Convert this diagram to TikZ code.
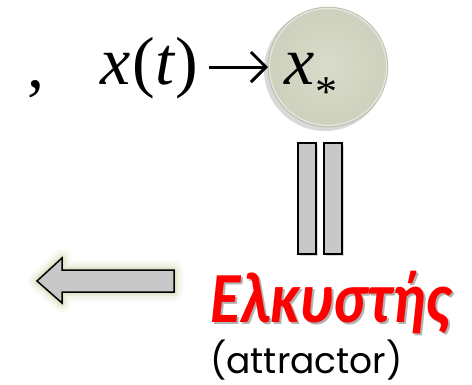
\documentclass[tikz,border=0pt]{standalone}
\usepackage{fontspec}
\usepackage{graphicx}
\usetikzlibrary{arrows.meta,shadows}
\newfontfamily\timesfont{Liberation Serif}
\newfontfamily\greekfont{Carlito}
\newfontfamily\roundfont{Poppins}
\definecolor{ballcol}{HTML}{CDD0BC}
\definecolor{balllight}{HTML}{DADCCB}
\definecolor{barcol}{HTML}{C8C8C8}
\definecolor{glowcol}{HTML}{BFC585}
\newcommand{\greekname}{\scalebox{0.86}[1]{\fontsize{72}{72}\greekfont\bfseries\itshape Ελκυστής}}
\begin{document}
\begin{tikzpicture}[x=1pt, y=-1pt,
    txt/.style={inner sep=0pt, anchor=base west},
    bar/.style={fill=barcol, draw=black, line width=1.5pt,
        drop shadow={opacity=0.3, shadow xshift=2pt, shadow yshift=-2pt}},
    conn/.style={line width=3pt, -{Straight Barb[length=15pt, width=30pt, line width=3pt]}}]
    \useasboundingbox (0,0) rectangle (472,384);

    % The limit point as a ball
    \fill[black, opacity=0.15] (325,70) circle (61);
    \shade[inner color=balllight, outer color=ballcol] (328,67) circle (60);
    \draw[white, opacity=0.5, line width=1.2pt] (328,67) circle (58.5);
    \draw[ballcol!70!black, opacity=0.35, line width=0.8pt] (328,67) circle (60);

    % Convergence line
    \node[txt] (comma) at (27,87) {\fontsize{68}{68}\timesfont ,};
    \node[txt] (xt) at (100,84) {\fontsize{68}{68}\timesfont\itshape x\hspace{2pt}\upshape(\itshape t\upshape\hspace{2pt})};
    \node[txt] (xstar) at (284,84) {\fontsize{68}{68}\timesfont\itshape x\upshape\hspace{1pt}\raisebox{-22pt}{\fontsize{44}{44}\selectfont *}};
    \draw[conn] (xt.east |- 0,67) ++(10,0) -- (268,67);

    % Double bar (is)
    \draw[bar] (298,143) rectangle (316,254);
    \draw[bar] (324,143) rectangle (342,254);

    % Arrow pointing left with glow
    \foreach \w/\o in {18/0.08, 13/0.12, 8/0.18, 4/0.25} {
        \draw[glowcol, line width=\w pt, opacity=\o, line join=round]
            (37,281) -- (62,258) -- (62,270) -- (174,270) -- (174,292) -- (62,292) -- (62,303) -- cycle;
    }
    \filldraw[fill=barcol, draw=black, line width=1.5pt]
        (37,281) -- (62,258) -- (62,270) -- (174,270) -- (174,292) -- (62,292) -- (62,303) -- cycle;

    % Name of the point, with its shadow
    \node[txt, text=red] (greek) at (210,322)
        {\makebox[0pt][l]{\hspace{2pt}\raisebox{-2pt}{\color{black!30}\greekname}}\greekname};
    \node[txt] (english) at (210,373) {\fontsize{36}{36}\roundfont (attractor)};
\end{tikzpicture}
\end{document}
